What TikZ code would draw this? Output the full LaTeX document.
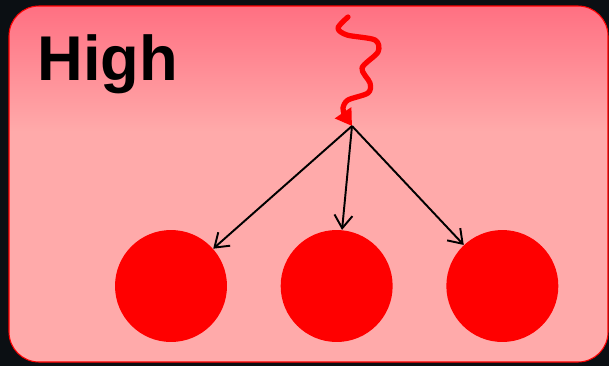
\documentclass[tikz,border=0pt]{standalone}
\usepackage{fontspec}
\setmainfont{Liberation Sans}
\usetikzlibrary{arrows.meta, positioning}
\definecolor{bgdark}{HTML}{0B0F13}
\definecolor{ballred}{HTML}{FF0000}
\definecolor{paneltop}{HTML}{FF7082}
\definecolor{panellow}{HTML}{FFAAAA}

\begin{document}
\begin{tikzpicture}[x=0.02cm, y=-0.02cm, >=Stealth,
  ball/.style={circle, fill=ballred, minimum size=2.24cm, inner sep=0pt},
  hop/.style={-{Straight Barb[length=2.6mm, width=3.6mm]}, line width=1.1pt},
  wave/.style={-{Triangle[length=3.2mm, width=3.8mm]}, draw=ballred,
               line width=3pt, line cap=round, line join=round}]
  % background and panel
  \fill[bgdark] (0,0) rectangle (609,366);
  \useasboundingbox (0,0) rectangle (609,366);
  \fill[panellow, rounded corners=0.6cm] (9,6) rectangle (608,362);
  \begin{scope}
    \clip[rounded corners=0.6cm] (9,6) rectangle (608,362);
    \shade[top color=paneltop, bottom color=panellow] (9,6) rectangle (608,132);
  \end{scope}
  \draw[ballred, line width=0.6pt, rounded corners=0.6cm] (9,6) rectangle (608,362);

  \node[font=\fontsize{36}{42}\selectfont\bfseries, anchor=base west,
        inner sep=0pt] (title) at (37,80) {High};

  % particles
  \node[ball] (c1) at (171,286) {};
  \node[ball, right=1.06cm of c1] (c2) {};
  \node[ball, right=1.06cm of c2] (c3) {};

  \coordinate (src) at (352,126);
  \coordinate (wtop) at (348,17);

  \draw[wave] plot[smooth, tension=0.5] coordinates {(wtop) (338,28) (347,35)
    (375,40) (378,52) (362,68) (370,83) (368,93) (348,100) (343,108)
    (345,115) (src)};

  \draw[hop] (src) -- (c1);
  \draw[hop] (src) -- (c2);
  \draw[hop] (src) -- (c3);
\end{tikzpicture}
\end{document}
